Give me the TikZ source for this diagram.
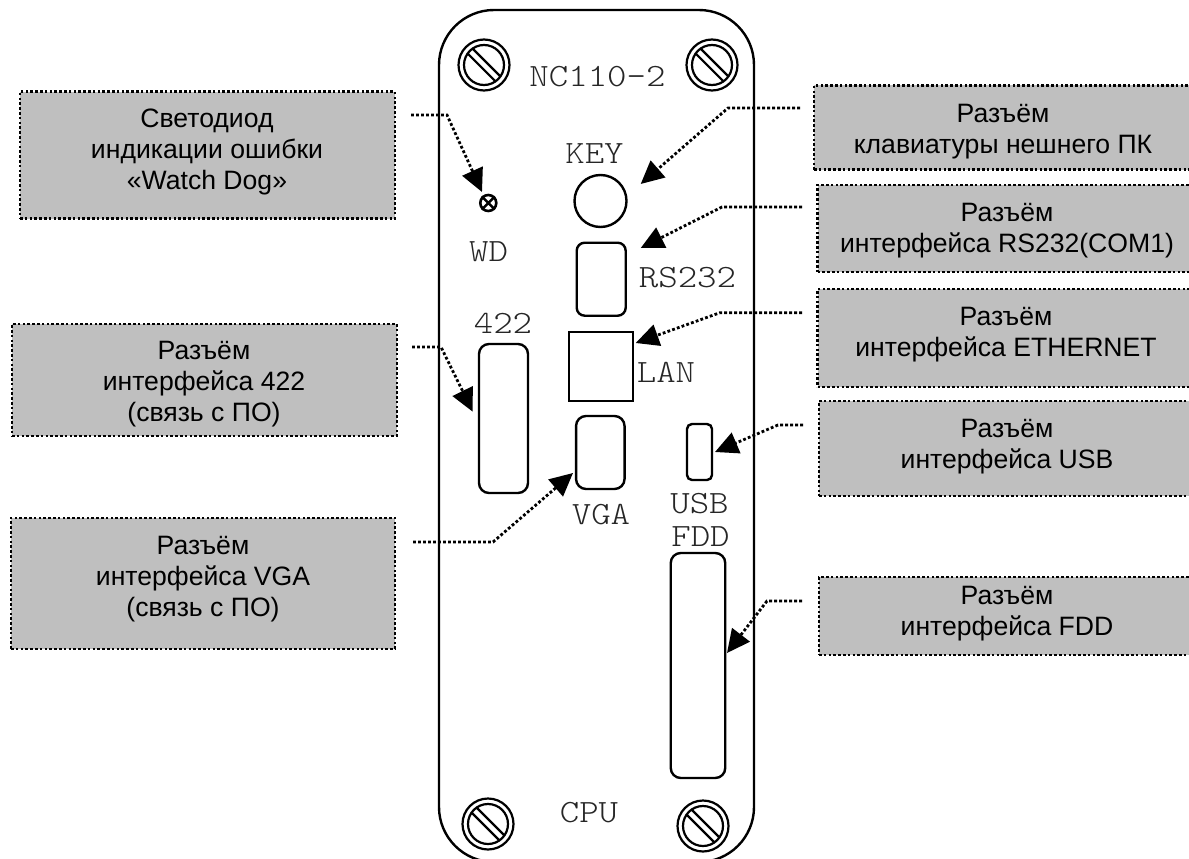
\documentclass[tikz,border=0pt]{standalone}
\usepackage{fontspec}
\setmainfont{Liberation Sans}
\newfontfamily\pmono[FakeStretch=1.14]{Latin Modern Mono Light}
\usetikzlibrary{arrows.meta}
\definecolor{boxgray}{HTML}{BFBFBF}
\tikzset{
  x=1pt,y=-1pt,
  greybox/.style={fill=boxgray,draw=black,line width=2.6pt,dash pattern=on 2.6pt off 2.2pt,inner sep=0},
  boxtext/.style={font=\fontsize{26.6}{31}\selectfont,align=center,inner sep=0},
  monotext/.style={font=\pmono\fontsize{32.5}{32.5}\selectfont,text=black!85,inner sep=0},
  conn/.style={draw=black,line width=2.8pt,dash pattern=on 2.8pt off 2.2pt,-{Triangle[length=23pt,width=22pt,sep=0pt]}},
  part/.style={draw=black,line width=2.4pt,inner sep=0},
  ring/.style={circle,draw=black,line width=2.2pt,inner sep=0},
}
\begin{document}
\begin{tikzpicture}
\useasboundingbox (0,0) rectangle (1189,859);
\begin{scope}
\clip (0,0) rectangle (1189,859);
\node[part,rounded corners=55pt,minimum width=315pt,minimum height=852pt] (panel) at (596.5,436) {};
% screws
\foreach \n/\cx/\cy in {tl/484/65,tr/712/65,bl/488/824,br/703/826}{
  \node[ring,minimum size=51pt] (s\n o) at (\cx,\cy) {};
  \node[ring,minimum size=40pt] (s\n i) at (\cx,\cy) {};
  \begin{scope}[shift={(\cx pt,-\cy pt)},rotate=-45]
    \draw[line width=2.2pt] (-19pt,3.5pt) -- (19pt,3.5pt) (-19pt,-3.5pt) -- (19pt,-3.5pt);
  \end{scope}
}
% grey boxes
\node[greybox,minimum width=375pt,minimum height=127pt] (b1) at (207.5,155) {};
\node[greybox,minimum width=385pt,minimum height=112pt] (b2) at (204.5,380) {};
\node[greybox,minimum width=384pt,minimum height=131pt] (b3) at (203,583.5) {};
\node[greybox,minimum width=385pt,minimum height=84pt] (b4) at (1006.5,127.5) {};
\node[greybox,minimum width=382pt,minimum height=87pt] (b5) at (1008.5,228.5) {};
\node[greybox,minimum width=382pt,minimum height=98pt] (b6) at (1008.5,338) {};
\node[greybox,minimum width=381pt,minimum height=95pt] (b7) at (1009.5,448.5) {};
\node[greybox,minimum width=381pt,minimum height=78pt] (b8) at (1009.5,616) {};
\end{scope}
% parts
\node[part,circle,minimum size=52pt] (key) at (600.5,201) {};
\node[part,rounded corners=8pt,minimum width=49pt,minimum height=73pt] (rs) at (601.2,279.2) {};
\node[part,minimum width=64pt,minimum height=69pt] (lan) at (601,366.2) {};
\node[part,rounded corners=10pt,minimum width=48.5pt,minimum height=73pt] (vga) at (600.3,452.5) {};
\node[part,rounded corners=5pt,minimum width=25pt,minimum height=56pt] (usb) at (699.5,452) {};
\node[part,rounded corners=10pt,minimum width=49pt,minimum height=149pt] (p422) at (503.5,418.5) {};
\node[part,rounded corners=10pt,minimum width=54.5pt,minimum height=225pt] (fdd) at (698,665.5) {};
\node[part,circle,line width=2.6pt,minimum size=16pt] (led) at (488.3,203) {};
\draw[line width=2.4pt] (led.north west) -- (led.south east) (led.north east) -- (led.south west);
% mono labels
\node[monotext] (tnc) at (597.5,77) {NC110-2};
\node[monotext] (tkey) at (594.5,154) {KEY};
\node[monotext] (twd) at (488.5,252) {WD};
\node[monotext] (trs) at (687.5,278) {RS232};
\node[monotext] (t422) at (503,323) {422};
\node[monotext] (tlan) at (666,372) {LAN};
\node[monotext] (tvga) at (601,515) {VGA};
\node[monotext] (tusb) at (699.5,504) {USB};
\node[monotext] (tfdd) at (700.5,537) {FDD};
\node[monotext] (tcpu) at (589,813) {CPU};
% box texts
\node[boxtext] (tb1) at (207,151.5) {Светодиод\\индикации ошибки\\«Watch Dog»};
\node[boxtext] (tb2) at (204,384.5) {Разъём\\интерфейса 422\\(связь с ПО)};
\node[boxtext] (tb3) at (203,579.5) {Разъём\\интерфейса VGA\\(связь с ПО)};
\node[boxtext] (tb4) at (1003,131.5) {Разъём\\клавиатуры нешнего ПК};
\node[boxtext] (tb5) at (1007,230.5) {Разъём\\интерфейса RS232(COM1)};
\node[boxtext] (tb6) at (1006,334.5) {Разъём\\интерфейса ETHERNET};
\node[boxtext] (tb7) at (1007,446.5) {Разъём\\интерфейса USB};
\node[boxtext] (tb8) at (1007,613.5) {Разъём\\интерфейса FDD};
% connectors
\coordinate (c1a) at (411,115); \coordinate (c1b) at (447,115); \coordinate (c1c) at (482,192);
\coordinate (c2a) at (412,347); \coordinate (c2b) at (441,347); \coordinate (c2c) at (472.7,411.7);
\coordinate (c3a) at (413,542); \coordinate (c3b) at (493,542); \coordinate (c3c) at (573,473);
\coordinate (c4a) at (800,108); \coordinate (c4b) at (728,108); \coordinate (c4c) at (640.7,184);
\coordinate (c5a) at (802,207); \coordinate (c5b) at (722,207); \coordinate (c5c) at (640.7,248);
\coordinate (c6a) at (802,312.7); \coordinate (c6b) at (720,312.7); \coordinate (c6c) at (635.7,343);
\coordinate (c7a) at (803,425); \coordinate (c7b) at (778,425); \coordinate (c7c) at (715,452);
\coordinate (c8a) at (802,601); \coordinate (c8b) at (767,601); \coordinate (c8c) at (727,653);
\foreach \i in {1,...,8}{ \draw[conn] (c\i a) -- (c\i b) -- (c\i c); }
\end{tikzpicture}
\end{document}
